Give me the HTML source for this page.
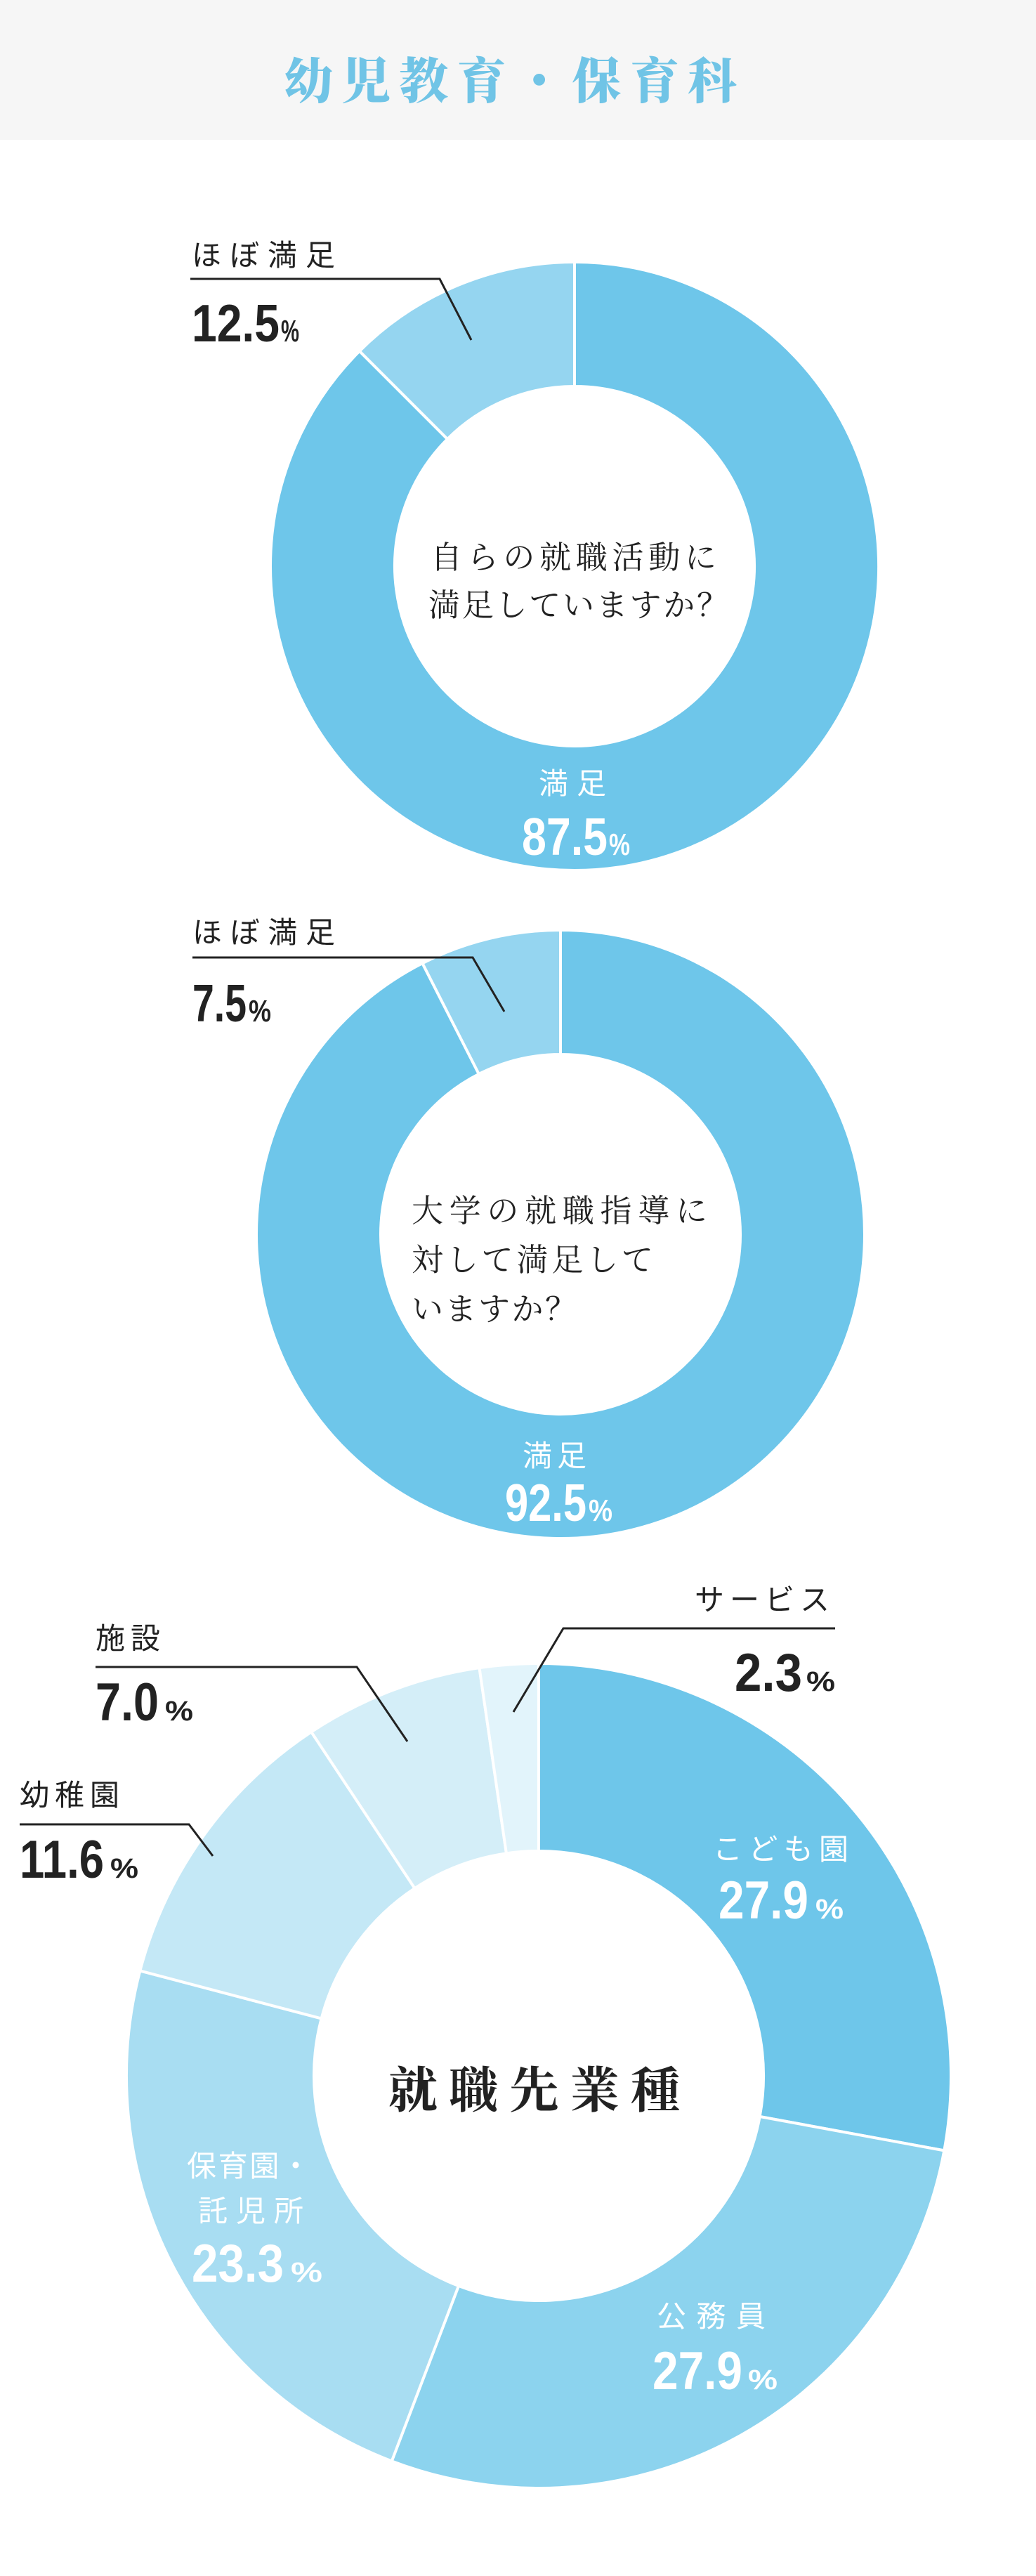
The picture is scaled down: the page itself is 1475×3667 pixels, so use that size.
<!DOCTYPE html>
<html><head><meta charset="utf-8"><style>
html,body{margin:0;padding:0;background:#fff;}
svg{display:block;}
.s{font-family:"Liberation Sans","Noto Sans CJK JP",sans-serif;}
.m{font-family:"Liberation Serif","Noto Serif CJK SC",serif;}
.n{font-family:"Liberation Sans",sans-serif;font-weight:bold;}
</style></head><body>
<svg width="1475" height="3667" viewBox="0 0 1475 3667" xmlns="http://www.w3.org/2000/svg">
<rect x="0" y="0" width="1475" height="199" fill="#f6f6f6"/>
<text class="m" x="404" y="140" font-size="70" font-weight="900" fill="#70c4e6" textLength="645" lengthAdjust="spacing">幼児教育・保育科</text>

<g fill="none" stroke="#222" stroke-width="3" id="lines">
<polyline points="271,397 626,397 671,484"/>
<polyline points="274,1363 673,1363 718,1440"/>
<polyline points="1189,2318 802,2318 731,2437"/>
<polyline points="136,2373 508,2373 580,2479"/>
<polyline points="28,2597 269,2597 303,2642"/>
</g>

<!-- chart 1 text -->
<text class="s" x="273" y="378" font-size="42" fill="#222" textLength="204" lengthAdjust="spacing">ほぼ満足</text>
<text class="n" x="273" y="486" font-size="75" fill="#222" textLength="125" lengthAdjust="spacingAndGlyphs">12.5</text>
<text class="n" x="400" y="486" font-size="44" fill="#222" textLength="26" lengthAdjust="spacingAndGlyphs">%</text>
<text class="m" x="613" y="809" font-size="45" fill="#222" textLength="407" lengthAdjust="spacing">自らの就職活動に</text>
<text class="m" x="610" y="877" font-size="45" fill="#222" textLength="427" lengthAdjust="spacing">満足していますか？</text>
<text class="s" x="767" y="1130" font-size="42" fill="#fff" textLength="96" lengthAdjust="spacing">満足</text>
<text class="n" x="743" y="1217" font-size="75" fill="#fff" textLength="122" lengthAdjust="spacingAndGlyphs">87.5</text>
<text class="n" x="867" y="1217" font-size="44" fill="#fff" textLength="30" lengthAdjust="spacingAndGlyphs">%</text>

<!-- chart 2 text -->
<text class="s" x="274" y="1342" font-size="42" fill="#222" textLength="203" lengthAdjust="spacing">ほぼ満足</text>
<text class="n" x="274" y="1454" font-size="75" fill="#222" textLength="77" lengthAdjust="spacingAndGlyphs">7.5</text>
<text class="n" x="354" y="1454" font-size="44" fill="#222" textLength="32" lengthAdjust="spacingAndGlyphs">%</text>
<text class="m" x="586" y="1739" font-size="45" fill="#222" textLength="421" lengthAdjust="spacing">大学の就職指導に</text>
<text class="m" x="586" y="1809" font-size="45" fill="#222" textLength="344" lengthAdjust="spacing">対して満足して</text>
<text class="m" x="586" y="1879" font-size="45" fill="#222" textLength="235" lengthAdjust="spacing">いますか？</text>
<text class="s" x="744" y="2087" font-size="42" fill="#fff" textLength="91" lengthAdjust="spacing">満足</text>
<text class="n" x="719" y="2165" font-size="75" fill="#fff" textLength="116" lengthAdjust="spacingAndGlyphs">92.5</text>
<text class="n" x="838" y="2165" font-size="44" fill="#fff" textLength="34" lengthAdjust="spacingAndGlyphs">%</text>

<!-- chart 3 text -->
<text class="s" x="1189" y="2292" font-size="42" fill="#222" text-anchor="end" letter-spacing="8">サービス</text>
<text class="n" x="1046" y="2407" font-size="76" fill="#222" textLength="96" lengthAdjust="spacingAndGlyphs">2.3</text>
<text class="n" x="1148" y="2407" font-size="40" fill="#222" textLength="41" lengthAdjust="spacingAndGlyphs">%</text>
<text class="s" x="136" y="2347" font-size="42" fill="#222" letter-spacing="8">施設</text>
<text class="n" x="136" y="2449" font-size="76" fill="#222" textLength="90" lengthAdjust="spacingAndGlyphs">7.0</text>
<text class="n" x="235" y="2449" font-size="40" fill="#222" textLength="40" lengthAdjust="spacingAndGlyphs">%</text>
<text class="s" x="28" y="2570" font-size="42" fill="#222" letter-spacing="8">幼稚園</text>
<text class="n" x="28" y="2673" font-size="76" fill="#222" textLength="120" lengthAdjust="spacingAndGlyphs">11.6</text>
<text class="n" x="157" y="2673" font-size="40" fill="#222" textLength="40" lengthAdjust="spacingAndGlyphs">%</text>
<text class="s" x="1015" y="2647" font-size="42" fill="#fff" textLength="193" lengthAdjust="spacing">こども園</text>
<text class="n" x="1023" y="2731" font-size="76" fill="#fff" textLength="128" lengthAdjust="spacingAndGlyphs">27.9</text>
<text class="n" x="1161" y="2731" font-size="40" fill="#fff" textLength="40" lengthAdjust="spacingAndGlyphs">%</text>
<text class="s" x="935" y="3312" font-size="42" fill="#fff" textLength="155" lengthAdjust="spacing">公務員</text>
<text class="n" x="929" y="3401" font-size="76" fill="#fff" textLength="128" lengthAdjust="spacingAndGlyphs">27.9</text>
<text class="n" x="1065" y="3401" font-size="40" fill="#fff" textLength="42" lengthAdjust="spacingAndGlyphs">%</text>
<text class="s" x="266" y="3098" font-size="42" fill="#fff" textLength="176" lengthAdjust="spacing">保育園・</text>
<text class="s" x="282" y="3162" font-size="42" fill="#fff" textLength="150" lengthAdjust="spacing">託児所</text>
<text class="n" x="273" y="3248" font-size="76" fill="#fff" textLength="131" lengthAdjust="spacingAndGlyphs">23.3</text>
<text class="n" x="414" y="3248" font-size="40" fill="#fff" textLength="45" lengthAdjust="spacingAndGlyphs">%</text>
<text class="m" x="553" y="3000" font-size="70" font-weight="bold" fill="#222" textLength="415" lengthAdjust="spacing">就職先業種</text>
</svg>
<script>
(function(){
var NS="http://www.w3.org/2000/svg";
var svg=document.querySelector('svg');
var first=document.getElementById('lines');
var g=document.createElementNS(NS,'g');
g.setAttribute('stroke','#fff');g.setAttribute('stroke-width','4');
svg.insertBefore(g,first);
function pt(cx,cy,r,f){var a=f*2*Math.PI;return [cx+r*Math.sin(a),cy-r*Math.cos(a)];}
function seg(cx,cy,R,r,f0,f1,col){
 var large=(f1-f0)>0.5?1:0;
 var a=pt(cx,cy,R,f0),b=pt(cx,cy,R,f1),c=pt(cx,cy,r,f1),d=pt(cx,cy,r,f0);
 var p=document.createElementNS(NS,'path');
 p.setAttribute('d','M'+a+' A'+R+','+R+' 0 '+large+' 1 '+b+' L'+c+' A'+r+','+r+' 0 '+large+' 0 '+d+' Z');
 p.setAttribute('fill',col);g.appendChild(p);
}
function donut(cx,cy,R,r,vals,cols){var s=0;for(var i=0;i<vals.length;i++){seg(cx,cy,R,r,s,s+vals[i],cols[i]);s+=vals[i];}}
donut(818,806,433,256,[0.875,0.125],['#6ec6ea','#95d5f0']);
donut(798,1757,433,256,[0.925,0.075],['#6ec6ea','#95d5f0']);
donut(767,2955,587,320,[0.279,0.279,0.233,0.116,0.070,0.023],['#6ec6ea','#8cd3ee','#a8ddf2','#c4e8f6','#d4eef8','#e2f4fb']);
})();
</script>
</body></html>
